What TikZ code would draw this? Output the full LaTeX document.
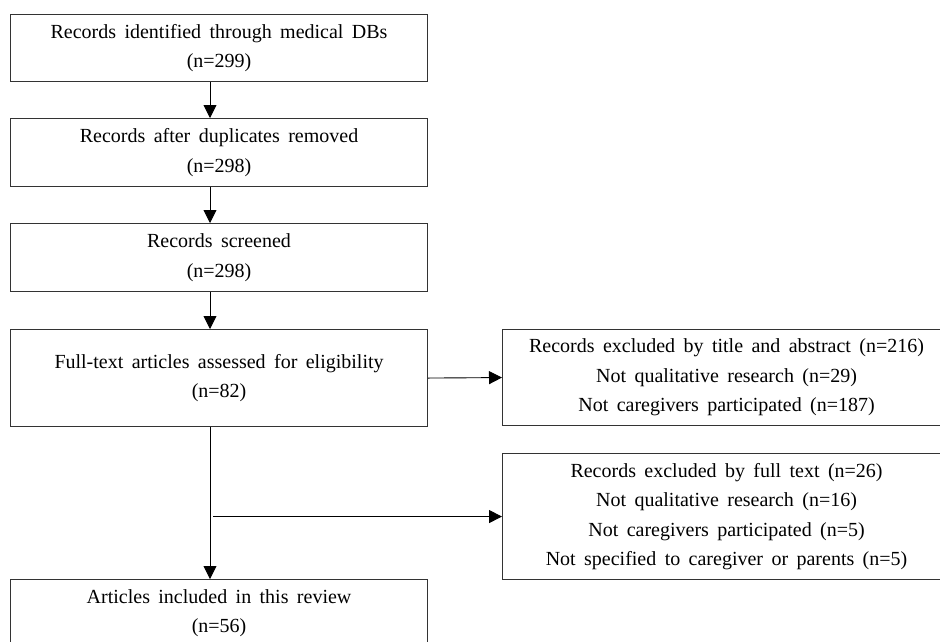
\documentclass[tikz,border=0pt]{standalone}
\usepackage{fontspec}
\setmainfont{Liberation Serif}
\usetikzlibrary{arrows.meta,calc}
\newcommand\boxfont{\fontsize{20}{29.5}\selectfont\spaceskip=0.42em plus 0.1em\relax}
\begin{document}
\begin{tikzpicture}[x=1pt,y=-1pt,
  box/.style={draw=black!80,line width=1.1pt,rectangle,anchor=north west,inner sep=0pt,
    align=center,font=\boxfont},
  arr/.style={line width=0.9pt,-{Triangle[width=13pt,length=13pt]}}]
\useasboundingbox (0,0) rectangle (940,641);
\clip (0,0) rectangle (940,641);
\fill[white] (0,0) rectangle (940,641);
\node[box,minimum width=417pt,minimum height=67pt] (b1) at (10,14) {Records identified through medical DBs\\(n=299)};
\node[box,minimum width=417pt,minimum height=68pt] (b2) at (10,118) {Records after duplicates removed\\(n=298)};
\node[box,minimum width=417pt,minimum height=68pt] (b3) at (10,223) {Records screened\\(n=298)};
\node[box,minimum width=417pt,minimum height=97pt] (b4) at (10,329) {Full-text articles assessed for eligibility\\(n=82)};
\node[box,minimum width=417pt,minimum height=67pt] (b5) at (10,579) {Articles included in this review\\(n=56)};
\node[box,minimum width=448pt,minimum height=96pt] (r1) at (502,329) {Records excluded by title and abstract (n=216)\\Not qualitative research (n=29)\\Not caregivers participated (n=187)};
\node[box,minimum width=448pt,minimum height=126pt] (r2) at (502,453) {Records excluded by full text (n=26)\\Not qualitative research (n=16)\\Not caregivers participated (n=5)\\Not specified to caregiver or parents (n=5)};
\draw[arr] ([xshift=200pt]b1.south west) -- ([xshift=200pt]b2.north west);
\draw[arr] ([xshift=200pt]b2.south west) -- ([xshift=200pt]b3.north west);
\draw[arr] ([xshift=200pt]b3.south west) -- ([xshift=200pt]b4.north west);
\draw[arr] ([xshift=200pt]b4.south west) -- ([xshift=200pt]b5.north west);
\draw[arr] (b4.east) -- (r1.west);
\coordinate (split) at ([xshift=203pt]b4.south west);
\draw[arr] (split |- r2.west) -- (r2.west);
\end{tikzpicture}
\end{document}
